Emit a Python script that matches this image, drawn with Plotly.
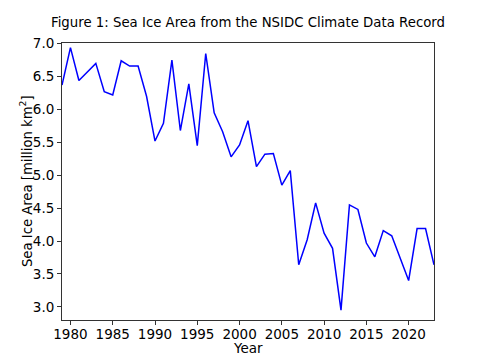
import plotly.graph_objects as go

years = list(range(1979, 2024))
area = [6.37, 6.94, 6.44, 6.57, 6.70, 6.27, 6.22, 6.74, 6.66, 6.66,
        6.20, 5.52, 5.79, 6.75, 5.68, 6.39, 5.45, 6.85, 5.95, 5.66,
        5.28, 5.46, 5.83, 5.13, 5.32, 5.33, 4.85, 5.07, 3.64, 4.02,
        4.58, 4.12, 3.89, 2.95, 4.55, 4.48, 3.97, 3.76, 4.16, 4.08,
        3.74, 3.40, 4.19, 4.19, 3.64]
x_ticks = [1980, 1985, 1990, 1995, 2000, 2005, 2010, 2015, 2020]
y_ticks = [3.0, 3.5, 4.0, 4.5, 5.0, 5.5, 6.0, 6.5, 7.0]

W, H = 485, 360
ML, MR, MT, MB = 62, 51, 43, 40
PW, PH = W - ML - MR, H - MT - MB

fig = go.Figure()
fig.add_trace(go.Scatter(x=years, y=area, mode="lines",
                         line=dict(color="#0000ff", width=1.5)))

axis_common = dict(showline=True, linecolor="#333333", linewidth=1, mirror=True,
                   ticks="outside", ticklen=4, tickcolor="#333333", showgrid=False,
                   zeroline=False, automargin=False,
                   tickfont=dict(size=13.5, color="black"))

fig.update_layout(
    width=W, height=H,
    margin=dict(l=ML, r=MR, t=MT, b=MB, autoexpand=False),
    paper_bgcolor="white", plot_bgcolor="white",
    font=dict(family="DejaVu Sans", color="black"),
    showlegend=False,
    title=dict(text="Figure 1: Sea Ice Area from the NSIDC Climate Data Record",
               x=0.5, xref="paper", xanchor="center", y=1 - 22 / H, yanchor="middle",
               font=dict(size=13.3, color="black")),
    xaxis=dict(range=[1979, 2023], tickvals=x_ticks,
               ticktext=[str(t) for t in x_ticks],
               ticklabelstandoff=-2,
               **axis_common),
    yaxis=dict(range=[2.80, 7.01], tickvals=y_ticks,
               ticktext=[f"{t:.1f}" for t in y_ticks],
               **axis_common),
    annotations=[
        dict(text="Year", xref="paper", yref="paper", x=0.5, y=-(348 - (MT + PH)) / PH,
             xanchor="center", yanchor="middle", showarrow=False,
             font=dict(size=13.5, color="black")),
        dict(text="Sea Ice Area [million km<sup>2</sup>]", xref="paper", yref="paper",
             x=-(ML - 25.5) / PW, y=0.5, textangle=-90,
             xanchor="center", yanchor="middle", showarrow=False,
             font=dict(size=13.2, color="black")),
    ],
)

fig.write_html("out.html", config={"displayModeBar": False, "staticPlot": True},
               post_script="document.body.style.margin='0px';document.body.style.overflow='hidden';")
